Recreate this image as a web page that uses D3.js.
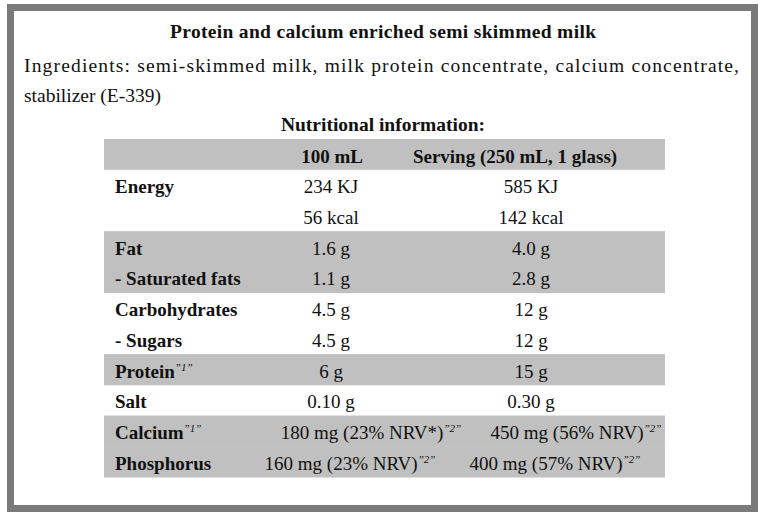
<!DOCTYPE html>
<html>
<head>
<meta charset="utf-8">
<script src="https://cdn.jsdelivr.net/npm/d3@7"></script>
<style>
  body { margin: 0; background: #fff; }
  text { font-family: "Liberation Serif", "Times New Roman", serif; fill: #111; }
</style>
</head>
<body>
<div id="chart"></div>
<script>
// texts
var title = "Protein and calcium enriched semi skimmed milk";
var ingredientLines = ["Ingredients: semi-skimmed milk, milk protein concentrate, calcium concentrate,",
                       "stabilizer (E-339)"];
var tableTitle = "Nutritional information:";
var columnHeaders = ["100 mL", "Serving (250 mL, 1 glass)"];

// table rows
var labels     = ["Energy", "", "Fat", "- Saturated fats", "Carbohydrates", "- Sugars",
                  "Protein", "Salt", "Calcium", "Phosphorus"];
var labelNotes = ["", "", "", "", "", "", "1", "", "1", ""];
var per100     = ["234 KJ", "56 kcal", "1.6 g", "1.1 g", "4.5 g", "4.5 g",
                  "6 g", "0.10 g", "180 mg (23% NRV*)", "160 mg (23% NRV)"];
var perServing = ["585 KJ", "142 kcal", "4.0 g", "2.8 g", "12 g", "12 g",
                  "15 g", "0.30 g", "450 mg (56% NRV)", "400 mg (57% NRV)"];
var valueNotes = ["", "", "", "", "", "", "", "", "2", "2"];
// rows that belong together share a band of shading
var groups     = ["energy", "energy", "fat", "fat", "carbs", "carbs",
                  "protein", "salt", "minerals", "minerals"];

var width = 763, height = 519;

var svg = d3.select("#chart").append("svg")
            .attr("width", width)
            .attr("height", height);

svg.append("rect")
   .attr("width", width).attr("height", height)
   .style("fill", "#fff");

// frame
svg.append("rect")
   .attr("x", 10.5).attr("y", 7.5)
   .attr("width", 744).attr("height", 501)
   .style("fill", "none")
   .style("stroke", "#7a7a7a")
   .style("stroke-width", 7);

svg.append("text")
   .attr("x", 383).attr("y", 38)
   .attr("text-anchor", "middle")
   .attr("textLength", 426).attr("lengthAdjust", "spacing")
   .style("font-weight", "bold")
   .style("font-size", "19.5px")
   .text(title);

svg.append("text")
   .attr("x", 24).attr("y", 72)
   .attr("textLength", 715).attr("lengthAdjust", "spacing")
   .style("font-size", "19.5px")
   .text(ingredientLines[0]);

svg.append("text")
   .attr("x", 24).attr("y", 102)
   .style("font-size", "19.5px")
   .text(ingredientLines[1]);

svg.append("text")
   .attr("x", 383).attr("y", 131)
   .attr("text-anchor", "middle")
   .style("font-weight", "bold")
   .style("font-size", "19.5px")
   .text(tableTitle);

// row scale: header + data rows
var rowKeys = ["header"].concat(d3.range(labels.length));
var y = d3.scaleBand()
          .domain(rowKeys)
          .range([139, 477]);

var tableLeft = 104, tableRight = 665;

// alternate shading per group, header is shaded
var groupList = Array.from(new Set(groups));
var shade = function(i) { return groupList.indexOf(groups[i]) % 2 === 1; };

var table = svg.append("g");

table.append("rect")
     .attr("x", tableLeft).attr("y", y("header"))
     .attr("width", tableRight - tableLeft).attr("height", y.bandwidth())
     .style("fill", "#c0c0c0");

table.selectAll(".band")
     .data(d3.range(labels.length).filter(shade))
     .join("rect")
     .attr("class", "band")
     .attr("x", tableLeft)
     .attr("y", function(i) { return y(i); })
     .attr("width", tableRight - tableLeft)
     .attr("height", y.bandwidth() + 0.5)
     .style("fill", "#c0c0c0");

var labelX = 115;
var colX = [331, 531];
var headerX = [332, 515];
// the two wide mineral rows sit off-centre in the source
var wideCenters = { 8: [371, 576], 9: [350, 555] };

var baseline = function(key) { return y(key) + 23.5; };

table.selectAll(".colhead")
     .data(columnHeaders)
     .join("text")
     .attr("class", "colhead")
     .attr("x", function(d, i) { return headerX[i]; })
     .attr("y", baseline("header"))
     .attr("text-anchor", "middle")
     .style("font-weight", "bold")
     .style("font-size", "19px")
     .text(function(d) { return d; });

function addNote(sel, note) {
    if (!note) return;
    sel.append("tspan")
       .attr("dy", -7)
       .style("font-size", "11px")
       .style("font-style", "italic")
       .style("font-weight", "normal")
       .text("\u201D" + note + "\u201D");
}

labels.forEach(function(lab, i) {
    var t = table.append("text")
                 .attr("x", labelX).attr("y", baseline(i))
                 .style("font-weight", "bold")
                 .style("font-size", "19px");
    t.append("tspan").text(lab);
    addNote(t, labelNotes[i]);

    [per100[i], perServing[i]].forEach(function(v, c) {
        var cx = wideCenters[i] ? wideCenters[i][c] : colX[c];
        var vt = table.append("text")
                      .attr("x", cx).attr("y", baseline(i))
                      .attr("text-anchor", "middle")
                      .style("font-size", "19px");
        vt.append("tspan").text(v);
        addNote(vt, valueNotes[i]);
    });
});
</script>
</body>
</html>
